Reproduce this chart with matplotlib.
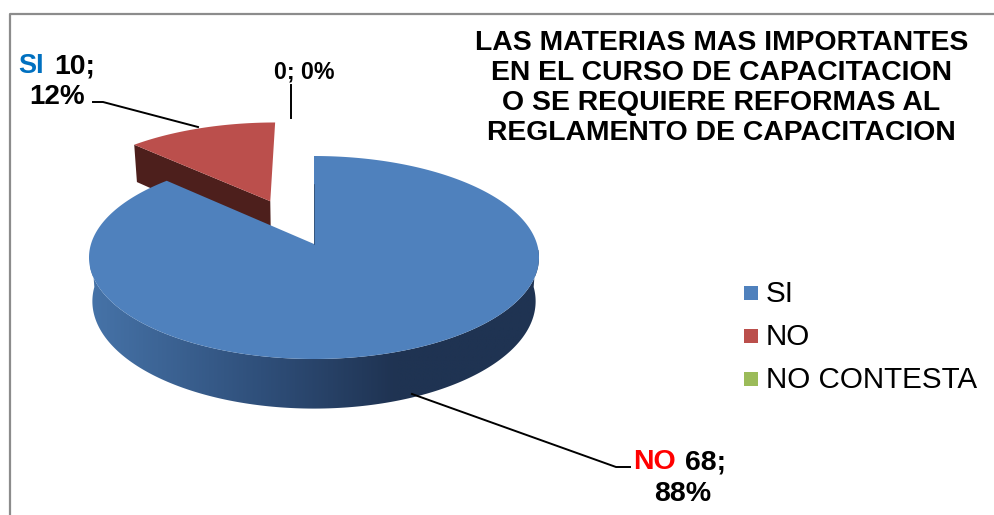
import numpy as np
import matplotlib
matplotlib.use('Agg')
import matplotlib.pyplot as plt
from matplotlib.colors import LinearSegmentedColormap
from matplotlib.patches import Polygon, Rectangle

plt.rcParams['font.family'] = ['Liberation Sans', 'DejaVu Sans']

legend_labels = ['SI', 'NO', 'NO CONTESTA']
slice_values = [68, 10, 0]
slice_colors = ['#4f81bd', '#bb4f4c', '#9bbb59']
title_lines = ['LAS MATERIAS MAS IMPORTANTES', 'EN EL CURSO DE CAPACITACION',
               'O SE REQUIERE REFORMAS AL', 'REGLAMENTO DE CAPACITACION']

# pie projection, worked out from the picture (pixels)
cx, cy = 314, 244
rx, ry = 223, 99.7
persp = 0.133
depth = 43
shrink = 0.015
explode = [0, 0.5, 0]


def project(X, Y, z=0.0):
    d = 1 + persp * Y
    sx = cx + rx * X / d * (1 - shrink * z)
    sy = cy - ry * Y / d + depth * z / d
    return np.column_stack((sx, sy))


def disc(angle, r=1.0, mid=0.0, ex=0.0):
    a = np.radians(angle)
    m = np.radians(mid)
    return r * np.sin(a) + ex * np.sin(m), r * np.cos(a) + ex * np.cos(m)


total = sum(slice_values)
ends = np.cumsum(slice_values) / total * 360
starts = ends - np.array(slice_values) / total * 360

fig = plt.figure(figsize=(9.95, 5.15), dpi=100, facecolor='white')
ax = fig.add_axes([0, 0, 1, 1])

# red slice: visible cut face, then top
mid_red = (starts[1] + ends[1]) / 2 - 1.5
ang = np.linspace(starts[1], ends[1], 60)
tip = disc(starts[1], 1, mid_red, explode[1])
apex = disc(0, 0, mid_red, explode[1])
xs = np.array([tip[0], apex[0]])
ys = np.array([tip[1], apex[1]])
wall = np.vstack((project(xs, ys), project(xs[::-1], ys[::-1], 1)))
ax.add_patch(Polygon(wall, fc='#4d1f1c', ec='none'))
ox, oy = disc(ang, 1, mid_red, explode[1])
ax.add_patch(Polygon(np.vstack((project(np.array([apex[0]]), np.array([apex[1]])), project(ox, oy))),
                     fc=slice_colors[1], ec='none'))

# blue slice: outer wall with the shading, then top
ang = np.linspace(90, 270, 200)
ox, oy = disc(ang)
rim = np.vstack((project(ox, oy), project(ox[::-1], oy[::-1], 1)))
rim_patch = Polygon(rim, fc='none', ec='none')
ax.add_patch(rim_patch)
shade = LinearSegmentedColormap.from_list('rim', [(0, '#4673a8'), (0.38, '#2f4f7a'), (0.68, '#1f3352'), (1, '#1f3352')])
img = ax.imshow(np.linspace(0, 1, 400).reshape(1, -1), cmap=shade, extent=(90, 540, 410, 250), aspect='auto', zorder=1)
img.set_clip_path(rim_patch)

ang = np.linspace(starts[0], ends[0], 400)
ox, oy = disc(ang)
top = np.vstack((project(np.array([0.0]), np.array([0.0])), project(ox, oy)))
ax.add_patch(Polygon(top, fc=slice_colors[0], ec='none', zorder=2))
ax.plot([cx, cx], [cy - 60, cy], color='#2c4566', lw=0.5, zorder=3)

# leader lines
ax.plot([93, 103, 198], [102, 102, 127], color='black', lw=1.4, zorder=3)
ax.plot([291, 291], [85, 118], color='black', lw=1.4, zorder=3)
ax.plot([412, 616, 630], [394, 467, 467], color='black', lw=1.4, zorder=1.5)

# data labels
ax.text(18, 66, 'SI', color='#0070c0', fontsize=19.5, fontweight='bold', va='center', zorder=4)
ax.text(54, 66, '10;', color='black', fontsize=20.5, fontweight='bold', va='center', zorder=4)
ax.text(57, 97, '12%', color='black', fontsize=20, fontweight='bold', va='center', ha='center', zorder=4)
ax.text(304, 72, '0; 0%', color='black', fontsize=16.7, fontweight='bold', va='center', ha='center', zorder=4)
ax.text(633, 462, 'NO', color='#ff0000', fontsize=20.5, fontweight='bold', va='center', zorder=4)
ax.text(685, 462, '68;', color='black', fontsize=20.5, fontweight='bold', va='center', zorder=4)
ax.text(683, 494, '88%', color='black', fontsize=20.5, fontweight='bold', va='center', ha='center', zorder=4)

# title
for i, line in enumerate(title_lines):
    ax.text(721.5, 42.5 + i * 30, line, color='black', fontsize=20.4, fontweight='bold', va='center', ha='center', zorder=4)

# legend
for i, lab in enumerate(legend_labels):
    y = 293 + i * 43
    ax.add_patch(Rectangle((744, y - 7), 14, 14, fc=slice_colors[i], ec='none', zorder=4))
    ax.text(766, y + 1, lab, color='black', fontsize=21.3, va='center', zorder=4)

# chart frame
ax.plot([10, 10, 995], [515, 14, 14], color='#8c8c8c', lw=1.6, zorder=5)

ax.set_xlim(0, 995)
ax.set_ylim(515, 0)
ax.axis('off')
fig.savefig('out.png', dpi=100)
